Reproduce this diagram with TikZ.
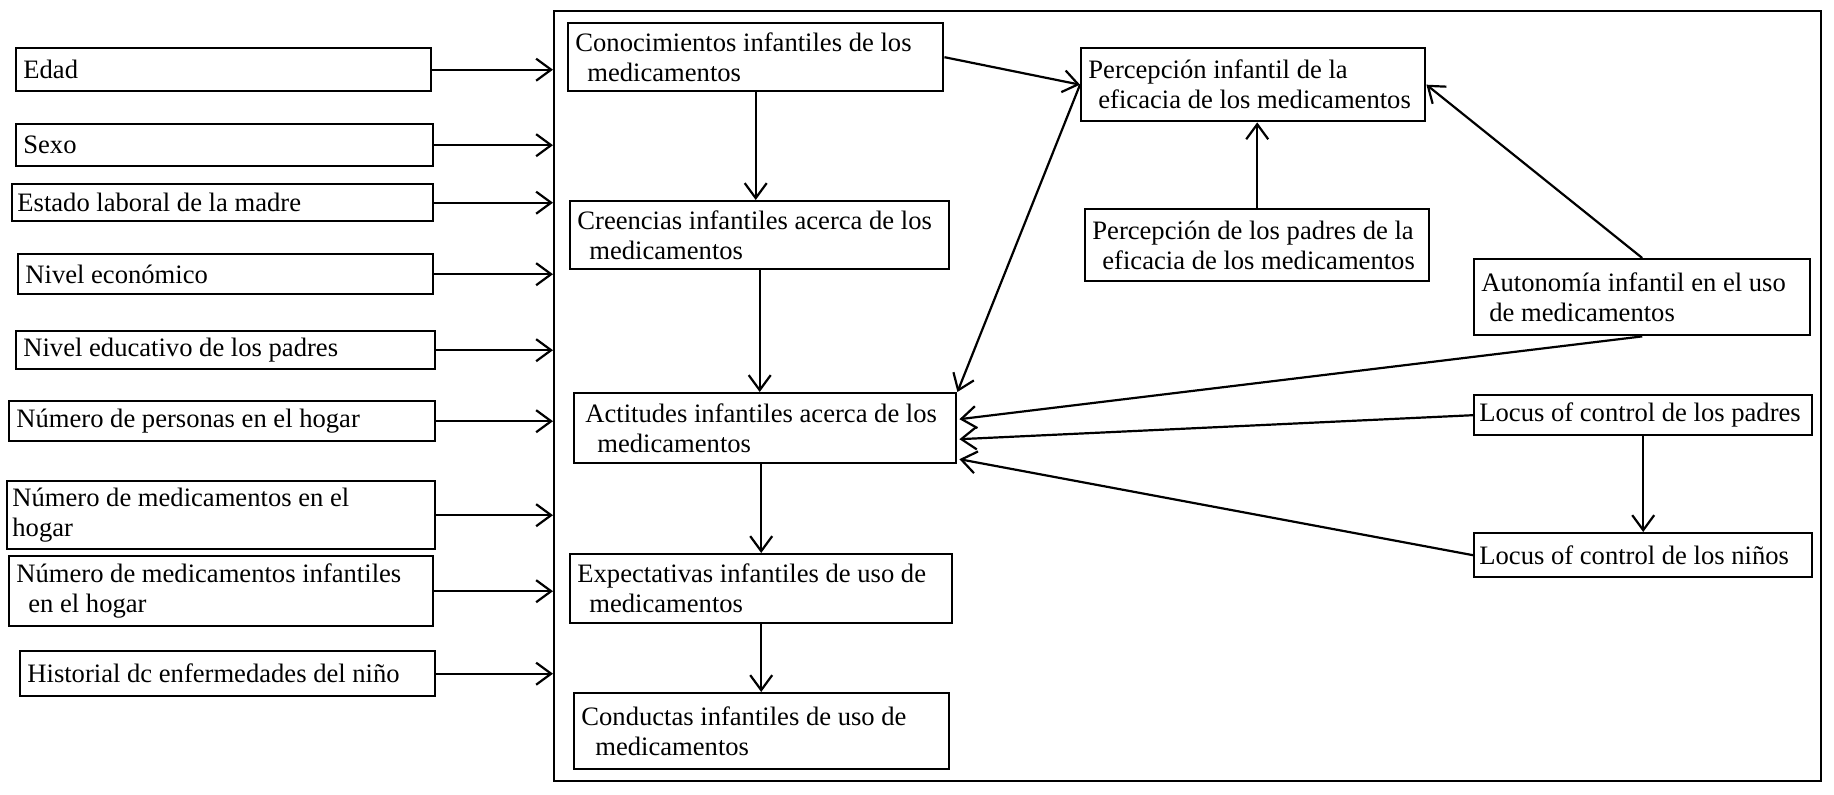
\documentclass[tikz,border=0pt]{standalone}
\usepackage{fontspec}
\setmainfont{Liberation Serif}
\usetikzlibrary{arrows.meta,calc}
\begin{document}
\begin{tikzpicture}[x=0.5pt,y=-0.5pt,
  box/.style={draw, line width=1.2pt, inner sep=0pt, anchor=north west},
  txt/.style={anchor=west, align=left, inner sep=0pt, font=\fontsize{13.3}{15}\selectfont},
  arr/.style={line width=1.1pt, -{Straight Barb[length=7.5pt,width=11pt,line width=1.1pt]}}]
\useasboundingbox (0,0) rectangle (1834,795);

% frame
\node[box, minimum width=633.5pt, minimum height=385pt] (frame) at (553,10) {};

% left column
\node[box, minimum width=207.5pt, minimum height=21.5pt] (edad) at (15,47) {};
\node[txt] (edad-t) at ([xshift=4pt]edad.west) {Edad};
\node[box, minimum width=208.5pt, minimum height=21pt] (sexo) at (15,123) {};
\node[txt] (sexo-t) at ([xshift=4pt]sexo.west) {Sexo};
\node[box, minimum width=210.5pt, minimum height=18.5pt] (estado) at (11,183) {};
\node[txt] (estado-t) at ([xshift=3pt]estado.west) {Estado laboral de la madre};
\node[box, minimum width=207.5pt, minimum height=20pt] (niveco) at (17,253) {};
\node[txt] (niveco-t) at ([xshift=4pt]niveco.west) {Nivel económico};
\node[box, minimum width=209.5pt, minimum height=19pt] (niveduc) at (15,330) {};
\node[txt] (niveduc-t) at ([xshift=4pt]niveduc.west) {Nivel educativo de los padres};
\node[box, minimum width=213pt, minimum height=20pt] (personas) at (8,400) {};
\node[txt] (personas-t) at ([xshift=4pt]personas.west) {Número de personas en el hogar};
\node[box, minimum width=214pt, minimum height=34pt] (medhog) at (6,480) {};
\node[txt] (medhog-t) at ([xshift=3pt]medhog.west) {Número de medicamentos en el\\hogar};
\node[box, minimum width=212pt, minimum height=35pt] (medinf) at (8,555) {};
\node[txt] (medinf-t) at ([xshift=4pt]medinf.west) {Número de medicamentos infantiles\\\hspace*{6pt}en el hogar};
\node[box, minimum width=207.5pt, minimum height=22.5pt] (hist) at (19,650) {};
\node[txt] (hist-t) at ([xshift=4pt]hist.west) {Historial dc enfermedades del niño};

\foreach \n in {edad,sexo,estado,niveco,niveduc,personas,medhog,medinf,hist}
  \draw[arr] (\n.east) -- (\n.east -| frame.west);

% middle column
\node[box, minimum width=187.5pt, minimum height=34pt] (conoc) at (567,22) {};
\node[txt] (conoc-t) at ([xshift=4pt]conoc.west) {Conocimientos infantiles de los\\\hspace*{6pt}medicamentos};
\node[box, minimum width=189.5pt, minimum height=34pt] (creen) at (569,200) {};
\node[txt] (creen-t) at ([xshift=4pt]creen.west) {Creencias infantiles acerca de los\\\hspace*{6pt}medicamentos};
\node[box, minimum width=191pt, minimum height=35pt] (act) at (573,392) {};
\node[txt] (act-t) at ([xshift=6pt]act.west) {Actitudes infantiles acerca de los\\\hspace*{6pt}medicamentos};
\node[box, minimum width=191pt, minimum height=34.5pt] (expec) at (569,553) {};
\node[txt] (expec-t) at ([xshift=4pt]expec.west) {Expectativas infantiles de uso de\\\hspace*{6pt}medicamentos};
\node[box, minimum width=187.5pt, minimum height=38pt] (conduc) at (573,692) {};
\node[txt] (conduc-t) at ([xshift=4pt]conduc.west) {Conductas infantiles de uso de\\\hspace*{7pt}medicamentos};

% right part
\node[box, minimum width=172pt, minimum height=36.5pt] (percinf) at (1080,47) {};
\node[txt] (percinf-t) at ([xshift=4pt]percinf.west) {Percepción infantil de la\\\hspace*{5pt}eficacia de los medicamentos};
\node[box, minimum width=172pt, minimum height=36pt] (percpad) at (1084,208) {};
\node[txt] (percpad-t) at ([xshift=4pt]percpad.west) {Percepción de los padres de la\\\hspace*{5pt}eficacia de los medicamentos};
\node[box, minimum width=168pt, minimum height=38pt] (auton) at (1473,258) {};
\node[txt] (auton-t) at ([xshift=4pt]auton.west) {Autonomía infantil en el uso\\\hspace*{4pt}de medicamentos};
\node[box, minimum width=169pt, minimum height=20pt] (locpad) at (1473,394) {};
\node[txt] (locpad-t) at ([xshift=3pt]locpad.west) {Locus of control de los padres};
\node[box, minimum width=169pt, minimum height=22pt] (locnin) at (1473,532) {};
\node[txt] (locnin-t) at ([xshift=3pt]locnin.west) {Locus of control de los niños};

% connectors
\draw[arr] (conoc.south) -- (conoc.south |- creen.north);
\draw[arr] (creen.south) -- (creen.south |- act.north);
\draw[arr] (expec.north |- act.south) -- (expec.north);
\draw[arr] (expec.south) -- (expec.south |- conduc.north);
\draw[arr] (conoc.east) -- (percinf.west);
\draw[arr] (percinf.west) -- (act.north east);
\draw[arr] (percpad.north) -- (percpad.north |- percinf.south);
\draw[arr] (auton.north) -- (percinf.east);
\draw[arr] (auton.south) -- ($(act.east)+(2,-9)$);
\draw[arr] (locpad.west) -- ($(act.east)+(2,11)$);
\draw[arr] (locnin.west) -- ($(act.east)+(2,31)$);
\draw[arr] (locpad.south) -- (locnin.north);
\end{tikzpicture}
\end{document}
